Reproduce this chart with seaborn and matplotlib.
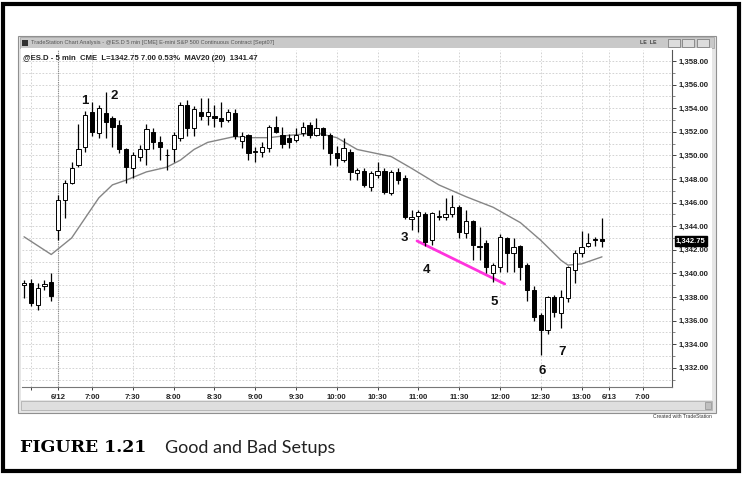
import numpy as np
import pandas as pd
import matplotlib
matplotlib.use("Agg")
import matplotlib.pyplot as plt
import seaborn as sns
from matplotlib.patches import Rectangle
from matplotlib.ticker import FuncFormatter, MultipleLocator

# 5-min bars, index 0 = first bar of 6/12 session (negatives = prior session close)
bar_idx = list(range(-5, 81))
opens = [1339.0, 1339.2, 1337.3, 1338.9, 1339.3,
         1343.7, 1346.2, 1347.7, 1349.2, 1350.7, 1353.7, 1351.9, 1353.6, 1353.2, 1352.6,
         1350.5, 1348.9, 1349.9, 1350.5, 1352.0, 1351.1, 1350.0, 1350.5, 1351.5, 1354.3,
         1352.3, 1353.7, 1353.3, 1353.3, 1353.2, 1353.0, 1353.6, 1351.2, 1351.7, 1350.3,
         1350.3, 1350.6, 1352.4, 1351.7, 1351.5, 1351.3, 1351.9, 1352.6, 1351.7, 1352.3,
         1351.7, 1350.2, 1349.6, 1350.3, 1348.5, 1348.7, 1347.3, 1348.3, 1348.7, 1346.8,
         1348.6, 1348.1, 1344.6, 1344.9, 1345.0, 1342.8, 1344.8, 1344.8, 1345.0, 1345.6,
         1343.4, 1344.4, 1342.3, 1342.6, 1340.0, 1340.5, 1343.0, 1341.7, 1342.3, 1340.7,
         1338.6, 1336.5, 1335.2, 1338.0, 1336.6, 1337.9, 1340.3, 1341.7, 1342.3, 1342.9,
         1342.9]
highs = [1339.4, 1339.5, 1339.2, 1339.4, 1340.0,
         1346.6, 1347.9, 1349.4, 1352.7, 1353.8, 1354.5, 1354.3, 1355.4, 1353.3, 1353.0,
         1350.6, 1350.3, 1350.9, 1352.7, 1352.3, 1351.6, 1350.5, 1352.0, 1354.5, 1354.7,
         1354.2, 1354.9, 1354.9, 1354.3, 1354.5, 1353.9, 1353.9, 1352.0, 1351.8, 1350.7,
         1351.1, 1352.6, 1353.3, 1352.4, 1351.8, 1352.3, 1352.8, 1352.8, 1353.2, 1352.4,
         1351.9, 1350.8, 1351.5, 1350.5, 1348.9, 1348.9, 1348.7, 1349.4, 1348.9, 1348.8,
         1348.9, 1348.3, 1345.4, 1345.4, 1345.2, 1345.2, 1345.4, 1346.4, 1346.6, 1345.8,
         1345.4, 1344.5, 1343.9, 1342.8, 1340.9, 1343.3, 1343.1, 1343.0, 1342.4, 1340.9,
         1338.9, 1336.6, 1338.1, 1338.2, 1338.6, 1340.6, 1342.0, 1343.6, 1343.4, 1343.1,
         1344.7]
lows = [1337.9, 1337.2, 1336.9, 1338.6, 1337.7,
        1342.8, 1344.7, 1347.6, 1349.0, 1350.3, 1351.6, 1351.5, 1351.5, 1350.7, 1350.2,
        1347.7, 1348.1, 1349.5, 1349.2, 1350.5, 1349.6, 1348.8, 1349.4, 1351.2, 1351.6,
        1351.6, 1353.0, 1352.6, 1352.4, 1352.4, 1352.8, 1351.4, 1350.6, 1349.6, 1349.4,
        1349.9, 1350.3, 1351.9, 1350.6, 1350.6, 1351.1, 1351.6, 1351.5, 1351.6, 1350.5,
        1349.2, 1349.1, 1349.4, 1347.9, 1347.9, 1347.3, 1347.0, 1348.1, 1346.7, 1346.6,
        1347.6, 1344.6, 1343.7, 1343.5, 1342.3, 1342.4, 1344.5, 1344.5, 1344.8, 1343.0,
        1343.0, 1341.1, 1341.1, 1340.0, 1339.3, 1340.1, 1340.1, 1340.1, 1339.4, 1337.7,
        1336.0, 1333.1, 1334.9, 1336.3, 1335.4, 1337.6, 1339.2, 1341.4, 1342.2, 1342.3,
        1342.2]
closes = [1339.2, 1337.5, 1338.8, 1339.1, 1338.1,
          1346.2, 1347.7, 1348.9, 1350.5, 1353.4, 1352.0, 1354.0, 1352.8, 1352.4, 1350.5,
          1349.0, 1350.0, 1350.5, 1352.2, 1351.1, 1350.7, 1350.05, 1351.7, 1354.3, 1352.3,
          1353.9, 1353.3, 1353.7, 1353.2, 1352.9, 1353.7, 1351.6, 1351.6, 1350.2, 1350.3,
          1350.7, 1352.4, 1352.0, 1351.0, 1351.1, 1351.7, 1352.4, 1351.7, 1352.3, 1351.7,
          1350.2, 1349.8, 1350.6, 1348.6, 1348.8, 1347.5, 1348.5, 1348.7, 1346.9, 1348.6,
          1347.9, 1344.8, 1344.8, 1345.2, 1342.7, 1345.1, 1344.85, 1345.0, 1345.6, 1343.5,
          1344.4, 1342.4, 1342.2, 1340.5, 1340.7, 1343.1, 1341.7, 1342.2, 1340.5, 1338.6,
          1336.3, 1335.2, 1338.0, 1336.7, 1338.0, 1340.5, 1341.7, 1342.2, 1342.6, 1342.8,
          1342.75]

# 20-bar moving average
ma_idx = [-5, -1, 2, 4, 6, 8, 10, 13, 16, 18, 20, 22, 26, 28, 31, 34, 38, 41, 44,
          49, 52, 56, 60, 64, 68, 71, 74, 75, 77, 80]
ma_val = [1343.1, 1341.6, 1343.0, 1344.7, 1346.4, 1347.5, 1347.9, 1348.6, 1349.0,
          1349.6, 1350.5, 1351.1, 1351.6, 1351.5, 1351.5, 1351.7, 1351.9, 1351.5,
          1350.5, 1349.9, 1348.9, 1347.5, 1346.5, 1345.6, 1344.3, 1342.8, 1341.1,
          1340.7, 1340.8, 1341.4]

# hand-drawn trend line (magenta)
trend_idx = [52.8, 65.7]
trend_val = [1342.75, 1339.1]

# setup labels: text, bar position, price
setup_text = ["1", "2", "3", "4", "5", "6", "7"]
setup_idx = [4.0, 8.2, 51.0, 54.2, 64.2, 71.2, 74.2]
setup_val = [1354.6, 1355.0, 1343.0, 1340.3, 1337.6, 1331.7, 1333.3]

time_ticks = [-4, 0, 5, 11, 17, 23, 29, 35, 41, 47, 53, 59, 65, 71, 77, 81, 86]
time_labels = ["", "6/12", "7:00", "7:30", "8:00", "8:30", "9:00", "9:30", "10:00",
               "10:30", "11:00", "11:30", "12:00", "12:30", "13:00", "6/13", "7:00"]

df = pd.DataFrame({"idx": bar_idx, "open": opens, "high": highs,
                   "low": lows, "close": closes})

sns.set_style("white")
plt.rcParams["font.family"] = ["Liberation Sans", "DejaVu Sans"]

W, H = 743, 480
fig = plt.figure(figsize=(W / 100, H / 100), dpi=100)


def fx(x):
    return x / W


def fy(y):
    return 1 - y / H


def rect(x0, y0, x1, y1, z=-5, **kw):
    fig.add_artist(Rectangle((fx(x0), fy(y1)), (x1 - x0) / W, (y1 - y0) / H,
                             transform=fig.transFigure, zorder=z, **kw))


# outer black frame of the book figure
rect(3, 4, 739, 471, z=10, fill=False, edgecolor="black", linewidth=3)

# window chrome
rect(18, 36, 716, 413, facecolor="#e6e6e6", edgecolor="#909090", linewidth=0.8)
rect(20, 37, 714, 48, facecolor="#c9c9c9", edgecolor="#a0a0a0", linewidth=0.5)
rect(21, 48, 712, 400, facecolor="white", edgecolor="none")
rect(22, 40, 28, 46, facecolor="#333333", edgecolor="none")
for bx in [668, 682, 697]:
    rect(bx, 39, bx + 12, 47, facecolor="#dcdcdc", edgecolor="#707070", linewidth=0.5)
fig.text(fx(640), fy(42.5), "LE  LE", fontsize=3.8, weight="bold", color="#444444",
         va="center")
fig.text(fx(31), fy(42.5),
         "TradeStation Chart Analysis - @ES.D 5 min [CME] E-mini S&P 500 Continuous Contract [Sept07]",
         fontsize=4.1, color="#555555", va="center")
rect(21, 401, 712, 410, facecolor="#dedede", edgecolor="#a8a8a8", linewidth=0.5)
rect(705, 402, 711, 409, facecolor="#c0c0c0", edgecolor="#808080", linewidth=0.4)
fig.text(fx(712), fy(417), "Created with TradeStation", fontsize=3.6,
         color="#333333", ha="right", va="center")

# chart axes
ax = fig.add_axes([fx(22), fy(387), (672 - 22) / W, (387 - 50) / H])
ax.set_zorder(2)
ax.patch.set_alpha(0)
ax.set_xlim(-5.3, 90.3)
ax.set_ylim(1330.37, 1358.93)

# grid
ax.yaxis.set_major_locator(MultipleLocator(2))
ax.yaxis.set_minor_locator(MultipleLocator(1))
ax.set_yticks(np.arange(1332, 1359, 2))
ax.set_xticks(time_ticks)
ax.set_xticklabels(time_labels)
ax.grid(True, which="both", axis="y", color="#cccccc", linestyle=(0, (2, 2)),
        linewidth=0.6)
ax.grid(True, which="major", axis="x", color="#cccccc", linestyle=(0, (2, 2)),
        linewidth=0.6)
ax.axvline(0, color="#8a8a8a", linestyle=(0, (1, 1)), linewidth=0.8)
ax.set_axisbelow(True)

# moving average
sns.lineplot(x=ma_idx, y=ma_val, ax=ax, color="#858585", linewidth=1.0)

# trend line
sns.lineplot(x=trend_idx, y=trend_val, ax=ax, color="#ff33dd", linewidth=2.0)

# candles
up = df["close"] >= df["open"]
body_lo = df[["open", "close"]].min(axis=1)
body_h = (df["close"] - df["open"]).abs().clip(lower=0.07)
ax.vlines(df["idx"], df["low"], df["high"], color="black", linewidth=0.9, zorder=3)
ax.bar(df["idx"], body_h, bottom=body_lo, width=0.62,
       color=np.where(up, "white", "black"), edgecolor="black", linewidth=0.7,
       zorder=4)

for t, xi, yv in zip(setup_text, setup_idx, setup_val):
    ax.text(xi, yv, t, fontsize=9.5, weight="bold", color="#111111",
            ha="center", va="center", zorder=5)

# header line inside the chart
ax.text(0.001, 0.985, "@ES.D - 5 min  CME  L=1342.75 7.00 0.53%  MAV20 (20)  1341.47",
        transform=ax.transAxes, fontsize=5.6, weight="bold", color="#222222",
        va="top", ha="left")

# axes styling
for s in ["top", "left"]:
    ax.spines[s].set_visible(False)
ax.spines["right"].set_color("#555555")
ax.spines["bottom"].set_color("#777777")
ax.spines["right"].set_linewidth(0.8)
ax.spines["bottom"].set_linewidth(0.8)
ax.yaxis.tick_right()
ax.yaxis.set_major_formatter(FuncFormatter(lambda v, p: f"{v:,.2f}"))
ax.tick_params(axis="y", which="major", direction="out", length=3, width=0.6,
               labelsize=5.6, pad=1.5, colors="#222222", right=True, left=False)
ax.tick_params(axis="y", which="minor", direction="out", length=2, width=0.5,
               right=True, left=False, colors="#555555")
ax.tick_params(axis="x", direction="out", length=2.5, width=0.6, labelsize=5.6,
               pad=2.5, colors="#222222", bottom=True)
for lab in ax.get_yticklabels() + ax.get_xticklabels():
    lab.set_fontweight("bold")
ax.set_xlabel("")
ax.set_ylabel("")

# last price marker
ax.text(1.006, 1342.75, "1,342.75", transform=ax.get_yaxis_transform(),
        fontsize=5.4, weight="bold", color="white", va="center", ha="left",
        bbox=dict(boxstyle="square,pad=0.15", facecolor="black", edgecolor="black"),
        zorder=6, clip_on=False)

# caption
fig.text(fx(20), fy(448), "FIGURE 1.21", fontsize=12.5, weight="heavy",
         family="DejaVu Serif", color="#000000", va="center", ha="left")
fig.text(fx(165), fy(448), "Good and Bad Setups", fontsize=13, family="Lato",
         color="#222222", va="center", ha="left")

fig.savefig("out.png", dpi=100)
